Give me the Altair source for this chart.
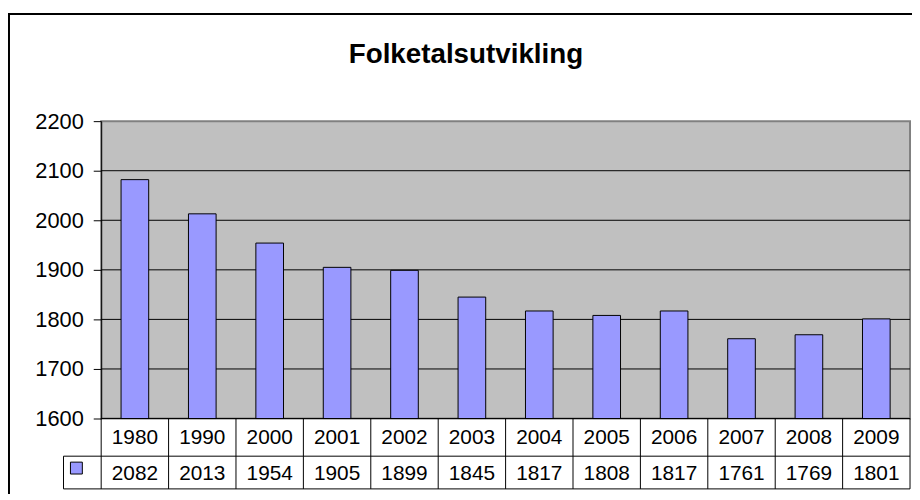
import altair as alt
import pandas as pd

years = ["1980", "1990", "2000", "2001", "2002", "2003", "2004", "2005",
         "2006", "2007", "2008", "2009"]
population = [2082, 2013, 1954, 1905, 1899, 1845, 1817, 1808, 1817, 1761, 1769, 1801]
y_ticks = [1600, 1700, 1800, 1900, 2000, 2100, 2200]
grid_values = [1700, 1800, 1900, 2000, 2100]
title_text = "Folketalsutvikling"

FONT = "Liberation Sans"
BAR_COLOR = "#9999FF"

df = pd.DataFrame({"year": years, "pop": population})
one = pd.DataFrame({"a": [0]})

W, H = 816, 300
xscale = alt.Scale(domain=years, paddingInner=0, paddingOuter=0)
yscale = alt.Scale(domain=[1600, 2200], nice=False, zero=False)
yaxis = alt.Axis(
    values=y_ticks, format="d", grid=False, domainColor="black", domainWidth=1,
    tickColor="black", tickSize=8, tickWidth=1, labelFontSize=22, labelFont=FONT,
    labelColor="black", labelPadding=10, title=None, labelFlush=False)

outer = alt.Chart(one).mark_rect(fill="white", fillOpacity=0, stroke="black", strokeWidth=2).encode(
    x=alt.value(-93), x2=alt.value(900), y=alt.value(-108), y2=alt.value(480)
)

title = alt.Chart(one).mark_text(
    text=title_text, fontSize=28, fontWeight="bold", font=FONT, align="center",
    baseline="alphabetic", color="black"
).encode(x=alt.value(368), y=alt.value(-59))

grid = alt.Chart(pd.DataFrame({"v": grid_values})).mark_rule(color="black", strokeWidth=1).encode(
    y=alt.Y("v:Q", scale=yscale, axis=yaxis)
)

bars = alt.Chart(df).mark_bar(
    color=BAR_COLOR, stroke="black", strokeWidth=1, width=alt.RelativeBandSize(0.41)
).encode(
    x=alt.X("year:N", scale=xscale, axis=None, sort=years),
    y=alt.Y("pop:Q", scale=yscale, axis=yaxis),
    y2=alt.datum(1600),
)

year_text = alt.Chart(df).mark_text(fontSize=21, font=FONT, color="black").encode(
    x=alt.X("year:N", scale=xscale, axis=None, sort=years), y=alt.value(320), text="year:N"
)
value_text = alt.Chart(df).mark_text(fontSize=21, font=FONT, color="black").encode(
    x=alt.X("year:N", scale=xscale, axis=None, sort=years), y=alt.value(356), text="pop:Q"
)

vlines = alt.Chart(df).mark_rule(color="black", strokeWidth=1).encode(
    x=alt.X("year:N", scale=xscale, axis=None, sort=years, bandPosition=0),
    y=alt.value(300), y2=alt.value(371)
)

def hline(x1, x2, y):
    return alt.Chart(one).mark_rule(color="black", strokeWidth=1).encode(
        x=alt.value(x1), x2=alt.value(x2), y=alt.value(y))

def vline(x, y1, y2):
    return alt.Chart(one).mark_rule(color="black", strokeWidth=1).encode(
        x=alt.value(x), y=alt.value(y1), y2=alt.value(y2))

table_lines = [
    hline(0, 816, 300),
    hline(-38, 816, 338),
    hline(-38, 816, 371),
    vline(816, 300, 371),
    vline(-38, 338, 371),
]

legend_sq = alt.Chart(one).mark_square(
    size=144, color=BAR_COLOR, stroke="black", strokeWidth=1, opacity=1, filled=True
).encode(x=alt.value(-25), y=alt.value(350))

chart = alt.layer(
    outer, title, grid, bars, year_text, value_text, vlines, *table_lines, legend_sq
).properties(
    width=W, height=H,
    background="white",
    autosize=alt.AutoSizeParams(type="none"),
    padding={"left": 94, "top": 112, "right": 2, "bottom": 74},
).configure_view(
    fill="#C0C0C0", stroke="#808080", strokeWidth=2
)

chart.save("out.html", embed_options={"renderer": "svg", "actions": False})
